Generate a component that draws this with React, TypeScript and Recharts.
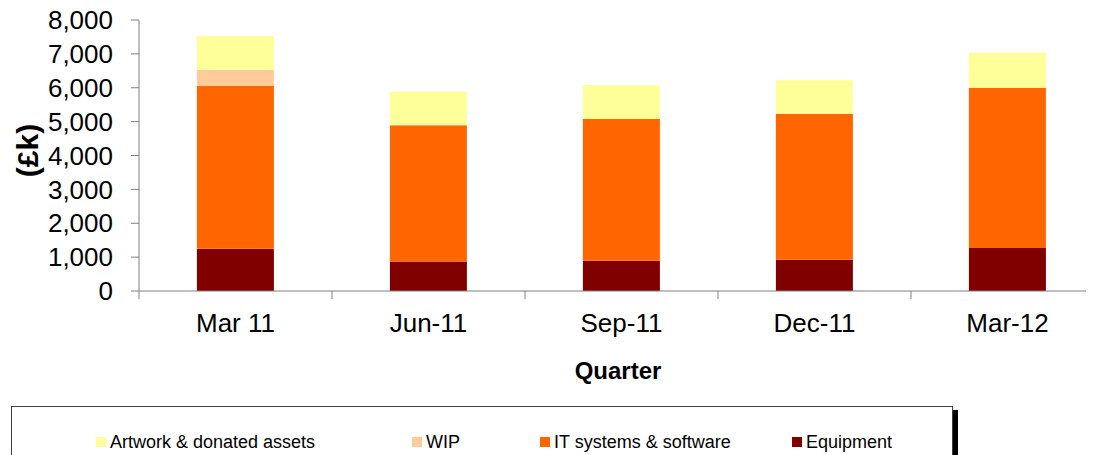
import React from 'react';
import { BarChart, Bar, XAxis, YAxis, Legend, Label } from 'recharts';

const quarters = ['Mar 11', 'Jun-11', 'Sep-11', 'Dec-11', 'Mar-12'];
const equipment = [1250, 870, 890, 920, 1270];
const itSystems = [4810, 4020, 4190, 4310, 4730];
const wip = [470, 0, 0, 0, 0];
const artwork = [1000, 1000, 1000, 990, 1030];
const yTicks = [0, 1000, 2000, 3000, 4000, 5000, 6000, 7000, 8000];

const seriesNames = {
  artwork: 'Artwork & donated assets',
  wip: 'WIP',
  it: 'IT systems & software',
  equipment: 'Equipment',
};

const COLORS = {
  artwork: '#FFFF99',
  wip: '#FFCC99',
  it: '#FF6600',
  equipment: '#800000',
};

const data = quarters.map((q, i) => ({
  quarter: q,
  equipment: equipment[i],
  it: itSystems[i],
  wip: wip[i],
  artwork: artwork[i],
}));

const FONT = "Arial, 'Liberation Sans', sans-serif";
const AXIS_COLOR = '#808080';
const LEGEND_X = [84, 400, 528, 780];
const LEGEND_ORDER: Array<keyof typeof seriesNames> = ['artwork', 'wip', 'it', 'equipment'];

const XTick = (props: any) => {
  const { x, y, payload } = props;
  const half = payload && typeof payload.offset === 'number' ? payload.offset : 96.5;
  return (
    <g>
      <line x1={x - half} x2={x - half} y1={y} y2={y + 8} stroke={AXIS_COLOR} strokeWidth={1} />
      <text x={x} y={y + 41} textAnchor="middle" fontFamily={FONT} fontSize={26} fill="#000">
        {payload.value}
      </text>
    </g>
  );
};

const YLabel = (props: any) => {
  const vb = props.viewBox || { x: 0, y: 20, width: 131, height: 271 };
  const cx = vb.x + 19;
  const cy = vb.y + vb.height / 2 - 5;
  return (
    <text
      x={cx}
      y={cy}
      transform={`rotate(-90, ${cx}, ${cy})`}
      textAnchor="middle"
      dominantBaseline="central"
      fontFamily={FONT}
      fontWeight="bold"
      fontSize={30}
      fill="#000"
    >
      (£k)
    </text>
  );
};

const XLabel = (props: any) => {
  const vb = props.viewBox || { x: 131, y: 291, width: 965, height: 100 };
  return (
    <text
      x={vb.x + vb.width / 2 - 3.5}
      y={vb.y + 88}
      textAnchor="middle"
      fontFamily={FONT}
      fontWeight="bold"
      fontSize={24}
      fill="#000"
    >
      Quarter
    </text>
  );
};

const LegendBox = () => (
  <div
    style={{
      position: 'relative',
      width: 942,
      height: 70,
      border: '1px solid #404040',
      background: '#fff',
      boxShadow: '5px 4px 0 #000',
      fontFamily: FONT,
      boxSizing: 'border-box',
    }}
  >
    {LEGEND_ORDER.map((k, i) => (
      <div
        key={k}
        style={{
          position: 'absolute',
          left: LEGEND_X[i],
          top: 24,
          display: 'flex',
          alignItems: 'center',
          whiteSpace: 'nowrap',
        }}
      >
        <span style={{ display: 'inline-block', width: 10, height: 10, background: COLORS[k], marginRight: 4 }} />
        <span style={{ fontSize: 18, color: '#000', lineHeight: '22px' }}>{seriesNames[k]}</span>
      </div>
    ))}
  </div>
);

export default function App() {
  return (
    <div style={{ width: 1086, height: 455, marginTop: -8, overflow: 'hidden', background: '#fff' }}>
      <BarChart
        width={1100}
        height={455}
        data={data}
        margin={{ top: 20, right: 4, bottom: 64, left: 0 }}
        barCategoryGap="30%"
      >
        <XAxis
          dataKey="quarter"
          height={100}
          tickLine={false}
          tickSize={0}
          tickMargin={0}
          interval={0}
          stroke={AXIS_COLOR}
          tick={<XTick />}
        >
          <Label content={<XLabel />} />
        </XAxis>
        <YAxis
          width={131}
          domain={[0, 8000]}
          ticks={yTicks}
          interval={0}
          tickSize={8}
          tickMargin={18}
          stroke={AXIS_COLOR}
          tick={{ fill: '#000', fontSize: 26, fontFamily: FONT }}
          tickFormatter={(v: number) => v.toLocaleString('en-GB')}
        >
          <Label content={<YLabel />} />
        </YAxis>
        <Legend
          layout="horizontal"
          verticalAlign="middle"
          align="center"
          content={<LegendBox />}
          wrapperStyle={{ position: 'absolute', left: 3, top: 406, width: 950, height: 80 }}
        />
        <Bar dataKey="equipment" name={seriesNames.equipment} stackId="a" fill={COLORS.equipment} isAnimationActive={false} />
        <Bar dataKey="it" name={seriesNames.it} stackId="a" fill={COLORS.it} isAnimationActive={false} />
        <Bar dataKey="wip" name={seriesNames.wip} stackId="a" fill={COLORS.wip} isAnimationActive={false} />
        <Bar dataKey="artwork" name={seriesNames.artwork} stackId="a" fill={COLORS.artwork} isAnimationActive={false} />
      </BarChart>
    </div>
  );
}
